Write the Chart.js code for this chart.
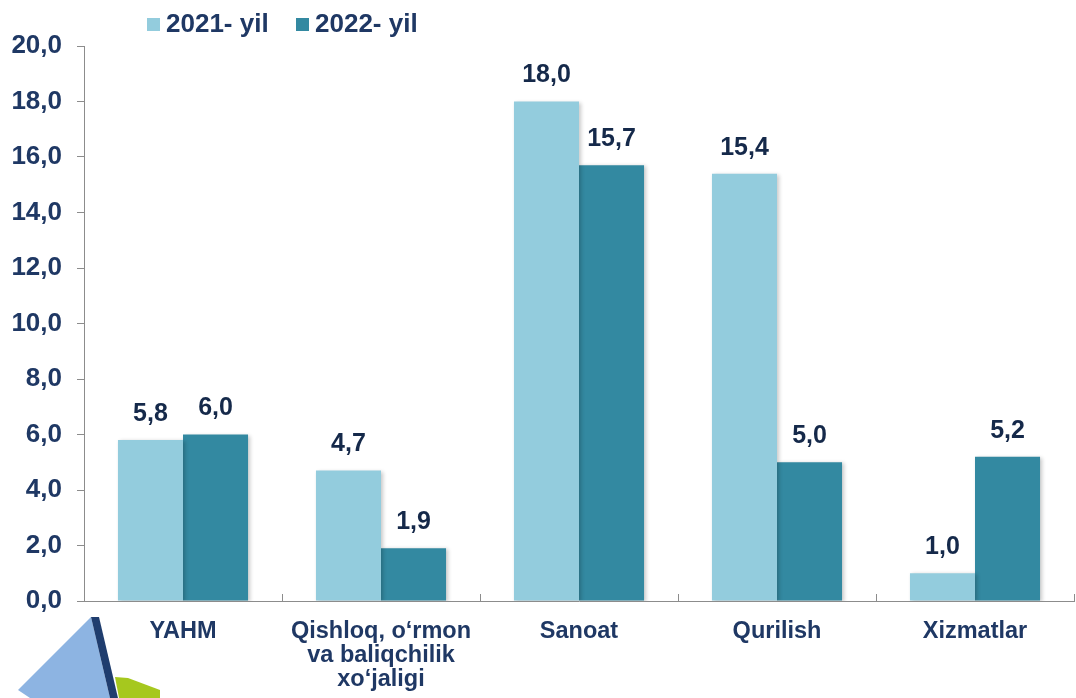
<!DOCTYPE html>
<html>
<head>
<meta charset="utf-8">
<script src="https://cdn.jsdelivr.net/npm/chart.js@4.4.1/dist/chart.umd.min.js"></script>
<style>
  html, body { margin: 0; padding: 0; background: #fff; }
  #wrap { position: relative; width: 1076px; height: 698px; }
</style>
</head>
<body>
<div id="wrap"><canvas id="c" width="1076" height="698"></canvas></div>
<script>
const categories = ['YAHM', ['Qishloq, o‘rmon', 'va baliqchilik', 'xo‘jaligi'], 'Sanoat', 'Qurilish', 'Xizmatlar'];
const seriesNames = ['2021- yil', '2022- yil'];
const values2021 = [5.8, 4.7, 18.0, 15.4, 1.0];
const values2022 = [6.0, 1.9, 15.7, 5.0, 5.2];
const yMin = 0, yMax = 20, yStep = 2;

const lightColor = '#93CCDD';
const darkColor = '#3389A1';
const textColor = '#1F3864';
const labelColor = '#15294A';
const axisColor = '#8C8C8C';

const fmt = v => v.toFixed(1).replace('.', ',');

const decoPlugin = {
  id: 'deco',
  beforeDatasetsDraw(chart) {
    const ctx = chart.ctx;
    ctx.save();
    ctx.shadowColor = 'rgba(0,0,0,0.22)';
    ctx.shadowBlur = 4;
    ctx.shadowOffsetX = 2;
    ctx.shadowOffsetY = 1;
  },
  afterDatasetsDraw(chart) {
    chart.ctx.restore();
  },
  afterDraw(chart) {
    const ctx = chart.ctx;
    const x = chart.scales.x;
    // inward category separator ticks
    ctx.save();
    ctx.strokeStyle = axisColor;
    ctx.lineWidth = 1;
    const n = chart.data.labels.length;
    for (let i = 1; i <= n; i++) {
      const px = Math.round(x.left + i * x.width / n) + 0.5;
      ctx.beginPath();
      ctx.moveTo(px, x.top);
      ctx.lineTo(px, x.top - 7);
      ctx.stroke();
    }
    ctx.restore();
    // value labels
    ctx.save();
    ctx.font = 'bold 25px "Liberation Sans", Arial, sans-serif';
    ctx.fillStyle = labelColor;
    ctx.textAlign = 'center';
    ctx.textBaseline = 'middle';
    chart.data.datasets.forEach((ds, di) => {
      chart.getDatasetMeta(di).data.forEach((bar, i) => {
        ctx.fillText(fmt(ds.data[i]), bar.x, bar.y - 26);
      });
    });
    ctx.restore();
    // legend
    ctx.save();
    ctx.font = 'bold 26px "Liberation Sans", Arial, sans-serif';
    ctx.textBaseline = 'middle';
    ctx.textAlign = 'left';
    const legendX = [147, 296];
    chart.data.datasets.forEach((ds, di) => {
      ctx.fillStyle = ds.backgroundColor;
      ctx.fillRect(legendX[di], 18, 13, 13);
      ctx.fillStyle = textColor;
      ctx.fillText(ds.label, legendX[di] + 19, 25);
    });
    ctx.restore();
    // decorative pyramid (bottom-left)
    ctx.save();
    ctx.fillStyle = '#8DB4E2';
    ctx.beginPath();
    ctx.moveTo(91, 617); ctx.lineTo(18, 690); ctx.lineTo(30, 698); ctx.lineTo(110, 698); ctx.closePath();
    ctx.fill();
    ctx.fillStyle = '#1F3D6E';
    ctx.beginPath();
    ctx.moveTo(91, 617); ctx.lineTo(99, 617); ctx.lineTo(118, 698); ctx.lineTo(110, 698); ctx.closePath();
    ctx.fill();
    ctx.fillStyle = '#A6C81E';
    ctx.beginPath();
    ctx.moveTo(115, 677); ctx.lineTo(128, 678); ctx.lineTo(160, 690); ctx.lineTo(160, 698); ctx.lineTo(119, 698); ctx.closePath();
    ctx.fill();
    ctx.restore();
  }
};

new Chart(document.getElementById('c'), {
  type: 'bar',
  data: {
    labels: categories,
    datasets: [
      { label: seriesNames[0], data: values2021, backgroundColor: lightColor },
      { label: seriesNames[1], data: values2022, backgroundColor: darkColor }
    ]
  },
  options: {
    responsive: false,
    animation: false,
    layout: { padding: { top: 46, left: 0, right: 2, bottom: 0 } },
    plugins: { legend: { display: false }, tooltip: { enabled: false } },
    datasets: { bar: { barPercentage: 1, categoryPercentage: 0.657 } },
    scales: {
      x: {
        grid: { display: false, drawOnChartArea: false, drawTicks: false },
        border: { display: true, color: axisColor, width: 1 },
        ticks: {
          color: textColor, padding: 18, maxRotation: 0, autoSkip: false,
          font: { family: '"Liberation Sans", Arial, sans-serif', size: 23.5, weight: 'bold', lineHeight: 1.03 }
        },
        afterFit(scale) { scale.height = 97; }
      },
      y: {
        min: yMin, max: yMax,
        grid: { drawOnChartArea: false, drawTicks: true, tickLength: 7, color: axisColor },
        border: { display: true, color: axisColor, width: 1 },
        ticks: {
          stepSize: yStep, color: textColor, padding: 15,
          font: { family: '"Liberation Sans", Arial, sans-serif', size: 26, weight: 'bold' },
          callback: v => fmt(v)
        },
        afterFit(scale) { scale.width = 84; }
      }
    }
  },
  plugins: [decoPlugin]
});
</script>
</body>
</html>
